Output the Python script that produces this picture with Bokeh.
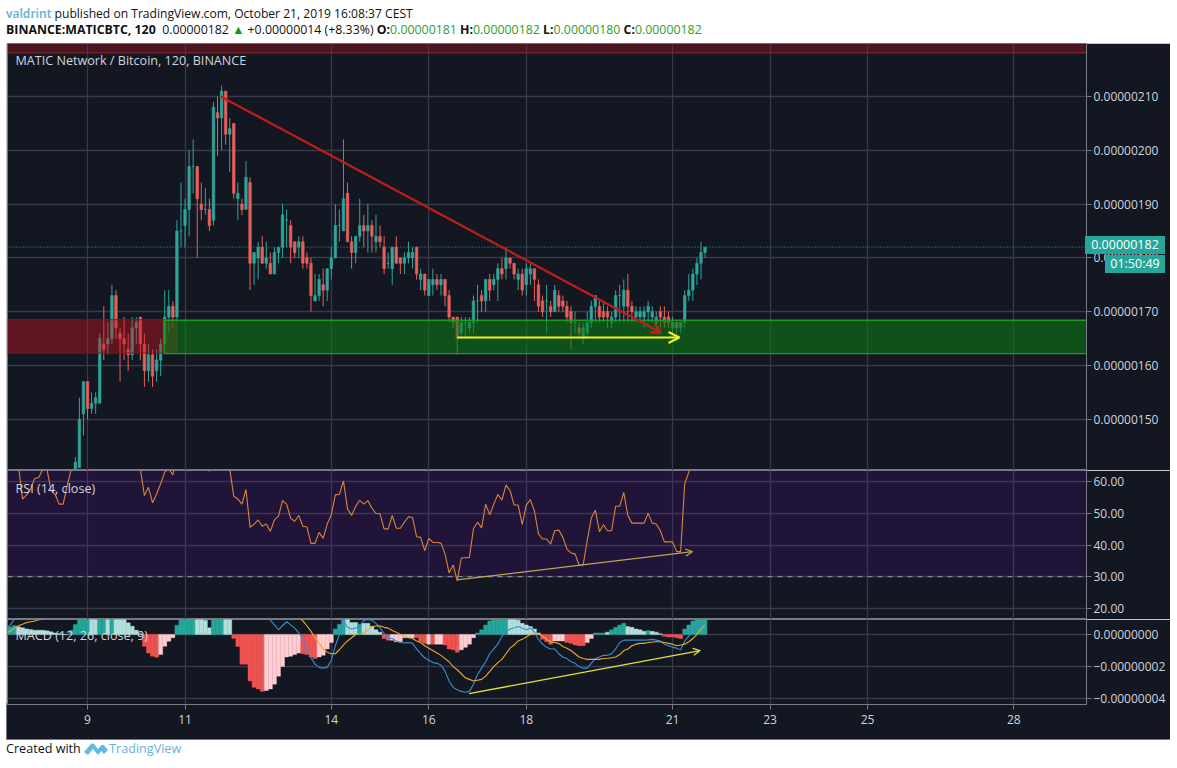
from bokeh.embed import file_html
from bokeh.resources import INLINE
from bokeh.plotting import figure
from bokeh.layouts import column
from bokeh.models import Div, Label, Range1d, FixedTicker, Arrow, OpenHead, Span
import numpy as np

# ---------- data (price values in satoshi, 1e-8 BTC; bars are 2h candles) ----------
FIRST_BAR = 0
OPEN = [138,141,151,157,152,153,153,164,164,165,173,166,165,163,162,167,169,164,159,162,159,161,164,169,171,
        169,185,186,189,197,197,190,189,189,187,207,206,211,203,205,191,190,189,194,179,180,182,179,179,177,
        181,182,187,186,183,182,183,180,179,172,173,175,174,178,180,186,185,192,183,181,184,186,185,186,183,
        184,182,179,178,182,180,179,180,180,182,176,177,173,175,176,175,176,173,169,169,166,168,167,168,172,
        173,172,176,175,176,178,178,180,179,176,177,175,177,178,175,172,172,171,170,173,172,171,170,168,167,
        165,166,168,171,171,170,170,168,169,173,171,174,171,169,169,169,170,169,168,170,169,169,167,168,167,
        168,173,174,177,179,181]
HIGH = [143,154,157,157,155,155,166,171,168,175,174,167,169,166,169,169,169,166,164,163,163,165,174,174,172,
        187,194,191,200,202,197,194,193,191,209,210,212,211,206,205,194,191,198,195,181,183,184,183,181,182,
        182,190,189,187,183,184,184,181,180,177,177,178,178,182,190,189,202,194,184,184,191,188,190,187,188,
        186,184,181,182,184,180,181,183,182,182,178,177,176,178,177,177,176,174,169,169,169,169,169,173,175,
        174,176,177,177,179,180,182,180,179,178,178,179,179,178,176,173,175,172,175,174,173,172,171,170,168,
        168,170,172,173,172,172,171,170,174,175,176,177,172,171,171,171,172,171,170,171,171,170,169,168,168,
        174,177,178,180,183,182]
LOW = [137,141,147,150,151,151,153,161,162,164,165,157,161,159,161,164,161,156,157,156,157,158,163,166,167,
       168,182,182,184,192,180,187,188,185,186,199,200,201,196,191,187,188,189,174,175,176,179,178,177,177,
       179,180,182,179,180,180,178,178,170,172,172,171,172,176,180,183,185,183,178,179,183,182,181,181,181,
       182,177,178,175,179,177,177,179,178,176,174,173,173,173,174,173,171,168,167,162,165,165,166,166,168,
       170,170,172,174,172,176,176,178,176,174,173,173,175,172,170,169,166,169,170,170,170,168,163,166,165,
       164,165,167,168,168,168,167,167,168,168,168,168,168,168,168,167,168,168,166,167,167,167,166,166,166,
       167,172,172,175,176,180]
CLOSE = [142,150,157,152,153,154,165,163,165,173,167,165,164,162,167,168,164,159,162,158,161,164,169,171,169,
         185,185,189,197,197,191,189,189,186,208,206,211,203,204,192,192,189,195,179,181,182,179,180,177,181,
         182,188,187,182,181,183,179,179,173,173,176,174,178,180,186,186,191,183,181,184,186,185,186,184,184,
         183,178,179,182,179,179,180,181,181,177,177,174,176,176,175,176,173,169,168,165,168,168,168,172,172,
         172,176,174,176,178,177,180,179,177,177,174,178,178,176,171,170,172,170,174,171,171,169,168,168,166,
         167,168,171,173,169,169,169,169,173,173,174,171,170,170,170,170,171,170,169,169,168,168,168,167,168,
         173,174,177,179,181,182]

ZONE_RED = dict(start=[-20], end=[25], low=[162.3], high=[168.5])
ZONE_GREEN = dict(start=[21.9], end=[255], low=[162.2], high=[168.4])
ZONE_TOP = dict(start=[-20], end=[255], low=[218.1], high=[230])
LAST_PRICE = 182

PRICE_TICKS = [150, 160, 170, 180, 190, 200, 210]
PRICE_TICK_LABELS = ["0.00000150", "0.00000160", "0.00000170", "0.00000180", "0.00000190", "0.00000200", "0.00000210"]
TIME_TICKS = [3, 27, 63, 87, 111, 147, 171, 195, 231]
TIME_TICK_LABELS = ["9", "11", "14", "16", "18", "21", "23", "25", "28"]

RED_ARROW_X = [35.8, 144.2]
RED_ARROW_Y = [210, 166.1]
YELLOW_ARROW_X = [94, 148.7]
YELLOW_ARROW_Y = [165.2, 165.2]

RSI_FIRST_BAR = -15
RSI = [68,65,54.5,55.8,57.7,61,61.3,64,64,57.2,56,52.9,52.9,58.7,64,
       70,75,82,78,76,75,80,76,77,82,78,74,72,76,72,70,
       64,55.6,58.2,53.3,56.1,59.3,63,64,62.1,68,74,78,82,80,76,78,74,63.2,72,80,78,72,64,
       55.4,54.5,52.9,57.5,45.6,46.6,47.9,45.9,46.6,44.3,47.9,49.1,54,52.9,48.4,47.5,49.3,45.9,45.7,40.5,40.5,
       44,42.1,46.6,49.5,55.8,56,60.2,51.4,49.3,52.2,54.1,
       52.9,54,51.6,50,49.8,45.1,45.1,49.3,45.3,45.3,47.2,48.9,48.7,42.6,42.4,38.2,42.1,40.8,40.8,40.6,37.2,31.2,
       33.7,28.7,35.9,36,36.1,45.1,47.2,45.4,52.9,49.5,52.9,55.9,54.2,58.9,57.2,52.6,52.6,46.4,52.6,54.3,50.8,
       43.5,41.9,41.9,40.3,44.5,44.7,42.4,38.7,37.5,37.2,33.7,33.7,41.4,48.5,51,44.2,46.4,44.5,44.5,52.2,52.2,
       56.6,49.3,46.9,46.9,46.9,46.9,50,46.9,46.6,44.5,41,41,41,37.9,37.9,59.3,63,67,70,72,74]
RSI_TICKS = [20, 30, 40, 50, 60]
RSI_TICK_LABELS = ["20.00", "30.00", "40.00", "50.00", "60.00"]
RSI_BAND = [30, 70]
RSI_TREND_X = [94, 151.9]
RSI_TREND_Y = [29, 37.9]

# MACD panel values in 1e-8
MACD_FIRST_BAR = -17
HIST = [.42,.48,.56,.48,.42,.35,.31,.27,.27,.27,.23,.17,.1,.06,.03,0,.27,.62,.94,1.2,1.3,1.2,1.1,1.2,1.4,1.3,1.4,1.35,1.2,1.0,.73,.52,.27,.05,
        -.73,-1.15,-1.35,-1.42,-1.25,-.73,-.42,-.2,.58,.94,1.2,1.2,1.3,1.3,1.1,.9,.42,1.1,1.2,1.1,1.1,1.0,
        -.25,-.75,-1.85,-1.85,-2.9,-3.3,-3.4,-3.55,-3.5,-3.4,-3.1,-2.6,-2.0,-1.4,-1.35,-1.25,-1.15,-1.2,-1.25,-1.4,-1.5,-1.4,-1.3,-.9,-.5,
        .35,.65,1.0,1.0,.75,.75,.65,.7,.7,.5,.3,.15,
        -.25,-.35,-.35,-.45,-.45,-.2,-.2,-.2,-.2,-.45,-.55,-.6,-.6,-.6,-.6,-.65,-.9,-.95,-1.1,-.95,-.8,-.6,-.2,
        .1,.3,.6,.85,1.0,1.05,1.1,1.1,1.1,1.1,.9,.7,.6,.5,.35,.1,
        -.3,-.45,-.6,-.4,-.4,-.4,-.5,-.55,-.65,-.7,-.7,-.5,-.25,
        .1,.1,.1,.15,.3,.45,.6,.7,.5,.45,.35,.3,.2,.25,.2,.15,.05,
        -.1,-.15,-.15,-.2,-.25,.35,.6,.85,.95,1.1,1.2]
HIST_KIND = ("TTT" "ttttttttttttt" "TTTTT" "tt" "TT" "t" "T" "ttttttt" "RRRR" "rrrr" "TTTTT" "tttt" "TTT" "tt"
             "RRRRRRRR" "rrrrrrrrr" "RRRR" "rrrr" "TTT" "ttt" "T" "ttttt" "RR" "rrrrrr" "RRR" "r" "R" "rr" "RRRR" "rrrr"
             "TTTTTTTT" "tttttttt" "RRR" "rrr" "RRRRR" "rr" "TTT" "t" "TTTT" "ttttt" "T" "ttt" "RRRRR" "TTTTTT")
MACD_LINE = [.4,.6,.95,1.2,1.4,1.6,1.8,2,2.2,2.4,2.6,2.7,2.8,2.9,3,3.1,3.2,3.5,3.9,4.3,4.7,5,5.2,5.4,5.6,5.8,6,6.1,6.2,6.2,6.1,6,5.8,5.6,5.4,5.1,4.8,4.5,
             4.2,4,3.8,3.7,3.6,3.6,3.5,3.5,3.4,3.4,3.3,3.2,3.1,3,2.9,2.8,2.6,2.3,1.9,1.6,1.3,1.3,1.25,1.2,1.3,1.3,1.3,
             .9,.6,.3,.55,.8,.6,.4,.1,-.3,-.95,-1.45,-1.85,-2.05,-2.1,-2.05,-1.6,-.7,0,.85,.45,.35,.4,.55,
             .88,.94,.9,.7,.42,.08,-.25,-.25,-.4,-.5,-.52,-.5,-.55,-.9,-1.2,-1.45,-1.6,-1.75,-1.8,-1.9,-2.3,-2.9,-3.3,-3.45,-3.55,-3.6,-3.55,-3.1,-2.5,-2.1,-1.7,-1.2,-.9,-.6,-.1,
             .15,.35,.42,.5,.4,.3,.4,.15,-.3,-.6,-.8,-.9,-.9,-1.2,-1.4,-1.5,-1.7,-1.8,-2,-2.1,-2.1,-1.8,-1.5,-1.4,-1.3,-1.3,-1.2,-.9,-.5,-.35,-.35,-.35,-.35,-.35,-.35,-.33,-.3,-.35,-.4,-.6,-.7,-.8,-.85,-.95,-.4,-.1,.3,.5,.6,.65]
SIGNAL_LINE = [.1,.2,.4,.55,.65,.75,.8,.85,.92,.98,1.1,1.2,1.3,1.4,1.5,1.6,1.7,1.8,1.9,2,2.2,2.4,2.6,2.8,3,3.2,3.4,3.5,3.6,3.7,3.8,3.85,3.9,3.95,4,4,4,4,
               3.9,3.8,3.8,3.7,3.6,3.5,3.4,3.4,3.3,3.2,3.1,3,2.9,2.8,2.7,2.6,2.6,2.5,2.4,2.3,2.2,2.1,2,1.9,1.8,1.7,
               1.65,1.6,1.55,1.5,1.5,1.45,1.4,1.4,1.1,.85,.55,.2,-.2,-.55,-.9,-1.1,-1.2,-1.2,-.95,-.65,-.4,-.2,0,.05,
               .1,.3,.5,.53,.54,.45,.4,.25,.15,0,-.1,-.2,-.25,-.4,-.5,-.7,-.85,-1,-1.15,-1.3,-1.5,-1.7,-2,-2.2,-2.45,-2.7,-2.8,-2.9,-2.85,-2.8,-2.6,-2.3,-2,-1.75,-1.55,
               -1.2,-.85,-.65,-.4,-.3,-.15,0,.05,.05,-.1,-.3,-.45,-.5,-.55,-.75,-.85,-1,-1.2,-1.4,-1.5,-1.55,-1.55,-1.55,-1.55,-1.5,-1.48,-1.45,-1.4,-1.25,-1,-.9,-.7,-.6,-.55,-.55,-.5,-.47,-.45,-.45,-.5,-.55,-.6,-.7,-.65,-.6,-.45,-.25,0,.35,.6]
MACD_TICKS = [-4, -2, 0]
MACD_TICK_LABELS = ["\u22120.00000004", "\u22120.00000002", "0.00000000"]
MACD_TREND_X = [96.9, 153.8]
MACD_TREND_Y = [-3.69, -1]

# ---------- styles ----------
BG = "#131722"; GRID = "#363a49"; FRAME = "#787b86"; TXT = "#d1d4dc"
UP = "#2fa69a"; DOWN = "#e8605c"
FONT = "Open Sans"
xr = Range1d(-16.7, 248.9)
HIST_COL = {"T": "#26a69a", "t": "#b2dfdb", "R": "#ef5350", "r": "#ffcdd2"}

def make(h, y0, y1, ticks, labels, bottom=0):
    p = figure(width=1164, height=h, x_range=xr, y_range=Range1d(y0, y1), y_axis_location="right",
               output_backend="svg", toolbar_location=None, background_fill_color=BG, border_fill_color=BG,
               min_border_left=1, min_border_right=84, min_border_top=0, min_border_bottom=bottom,
               outline_line_color=FRAME, margin=(0, 0, 0, 6))
    p.yaxis.ticker = FixedTicker(ticks=ticks)
    p.yaxis.major_label_overrides = dict(zip(ticks, labels))
    p.xaxis.ticker = FixedTicker(ticks=TIME_TICKS)
    p.xaxis.major_label_overrides = dict(zip(TIME_TICKS, TIME_TICK_LABELS))
    for ax in (p.xaxis, p.yaxis):
        ax.axis_line_color = FRAME
        ax.major_tick_line_color = FRAME
        ax.major_tick_out = 5
        ax.major_tick_in = 0
        ax.minor_tick_line_color = None
        ax.major_label_text_color = TXT
        ax.major_label_text_font = FONT
        ax.major_label_text_font_size = "12px"
        ax.major_label_standoff = 2
    p.xaxis.major_label_standoff = 5
    p.xgrid.ticker = FixedTicker(ticks=TIME_TICKS)
    p.ygrid.ticker = FixedTicker(ticks=ticks)
    p.grid.grid_line_color = GRID
    p.grid.grid_line_width = 1.3
    p.xaxis.visible = bottom > 0
    return p

def caption(p, text, y):
    p.add_layout(Label(x=8, y=y, x_units="screen", y_units="screen", text=text, text_color=TXT,
                       text_font=FONT, text_font_size="12.6px", text_baseline="middle"))

# ---------- price pane ----------
main = make(427, 140.48, 219.85, PRICE_TICKS, PRICE_TICK_LABELS)
bars = FIRST_BAR + np.arange(len(OPEN))
o, h, l, c = map(np.array, (OPEN, HIGH, LOW, CLOSE))
up = c >= o
for mask, col in ((up, UP), (~up, DOWN)):
    main.segment(bars[mask], h[mask], bars[mask], l[mask], line_color=col, line_width=1)
    main.vbar(bars[mask], 0.62, o[mask], c[mask], fill_color=col, line_color=col, line_width=0.6)
main.quad(left=ZONE_TOP["start"], right=ZONE_TOP["end"], bottom=ZONE_TOP["low"], top=ZONE_TOP["high"],
          fill_color="#b0141c", fill_alpha=0.36, line_color="#8a2a30", line_width=1)
main.quad(left=ZONE_RED["start"], right=ZONE_RED["end"], bottom=ZONE_RED["low"], top=ZONE_RED["high"],
          fill_color="#c8141e", fill_alpha=0.42, line_color="#7a1a22", line_width=1)
main.quad(left=ZONE_GREEN["start"], right=ZONE_GREEN["end"], bottom=ZONE_GREEN["low"], top=ZONE_GREEN["high"],
          fill_color="#0b7c16", fill_alpha=0.58, line_color="#1f9a24", line_width=1.4)
main.add_layout(Span(location=LAST_PRICE, dimension="width", line_color="#26a69a", line_dash=[1, 2], line_width=1))
main.add_layout(Arrow(end=OpenHead(size=10, line_color="#d41e1e", line_width=2),
                      x_start=RED_ARROW_X[0], y_start=RED_ARROW_Y[0], x_end=RED_ARROW_X[1], y_end=RED_ARROW_Y[1],
                      line_color="#c21c1c", line_width=2.2))
main.add_layout(Arrow(end=OpenHead(size=11, line_color="#f4f020", line_width=2),
                      x_start=YELLOW_ARROW_X[0], y_start=YELLOW_ARROW_Y[0], x_end=YELLOW_ARROW_X[1], y_end=YELLOW_ARROW_Y[1],
                      line_color="#f4f020", line_width=2))
caption(main, "MATIC Network / Bitcoin, 120, BINANCE", 410)

# ---------- RSI pane ----------
rsi = make(149, 16.5, 63.5, RSI_TICKS, RSI_TICK_LABELS)
rsi.quad(left=[-20], right=[255], bottom=[RSI_BAND[0]], top=[RSI_BAND[1]], fill_color="#9800ff", fill_alpha=0.1, line_alpha=0)
rsi.add_layout(Span(location=RSI_BAND[0], dimension="width", line_color="#9a9aa8", line_dash=[5, 5], line_width=1))
rsi.line(RSI_FIRST_BAR + np.arange(len(RSI)), RSI, line_color="#d9853b", line_width=1.1)
rsi.add_layout(Arrow(end=OpenHead(size=7, line_color="#c0a94a", line_width=1.2),
                     x_start=RSI_TREND_X[0], y_start=RSI_TREND_Y[0], x_end=RSI_TREND_X[1], y_end=RSI_TREND_Y[1],
                     line_color="#b9a552", line_width=1.2))
caption(rsi, "RSI (14, close)", 131)

# ---------- MACD pane ----------
macd = make(121, -4.37, 0.94, MACD_TICKS, MACD_TICK_LABELS, bottom=36)
hx = MACD_FIRST_BAR + np.arange(len(HIST))
hist_colors = [HIST_COL[k] for k in HIST_KIND]
macd.vbar(hx, 1.0, 0, HIST, fill_color=hist_colors, line_color=hist_colors, line_width=0.4)
macd.line(hx, MACD_LINE, line_color="#3a8fd0", line_width=1.1)
macd.line(hx, SIGNAL_LINE, line_color="#f0a92a", line_width=1.1)
macd.add_layout(Arrow(end=OpenHead(size=7, line_color="#e8e040", line_width=1.2),
                      x_start=MACD_TREND_X[0], y_start=MACD_TREND_Y[0], x_end=MACD_TREND_X[1], y_end=MACD_TREND_Y[1],
                      line_color="#e8e040", line_width=1.3))
caption(macd, "MACD (12, 26, close, 9)", 69)

# ---------- header and footer ----------
G = "color:#2ca02c"
header = Div(width=1164, height=43, margin=(0, 0, 0, 6), text=(
    f"<div style='font-family:\"Open Sans\";color:#111;white-space:nowrap;padding-top:6px'>"
    f"<div style='font-size:12.1px;line-height:16px'><span style='color:#58b4d6;font-weight:600'>valdrint</span> published on TradingView.com, October 21, 2019 16:08:37 CEST</div>"
    f"<div style='font-size:12.35px;line-height:16px'><b>BINANCE:MATICBTC, 120</b>&nbsp; 0.00000182 <span style='color:#0a9a1c'>\u25b2</span> +0.00000014 (+8.33%) "
    f"<b>O:</b><span style='{G}'>0.00000181</span> <b>H:</b><span style='{G}'>0.00000182</span> "
    f"<b>L:</b><span style='{G}'>0.00000180</span> <b>C:</b><span style='{G}'>0.00000182</span></div></div>"))
logo = ("<svg width='24' height='14' viewBox='0 0 24 14' style='vertical-align:-2px'>"
        "<path d='M0 11 L7 3 Q8.5 1.5 10 3 L14 8 L17 4.5 Q18.5 3 20 4.5 L24 9 L20 13 L17.5 10 L14 14 L9 8 L4 14 Z' fill='#5fbcdc'/></svg>")
BOX = ("position:absolute;background:#26a69a;color:#fff;font-size:12.5px;line-height:18px;height:18px;"
       "text-align:center;font-family:'Open Sans'")
EDGE = "position:absolute;background:#787b86"
footer = Div(width=1164, height=20, margin=(0, 0, 0, 6), text=(
    f"<div style='position:relative;font-family:\"Open Sans\";font-size:12.6px;line-height:18px;color:#111;white-space:nowrap'>"
    f"Created with {logo}<span style='color:#5fb4d6;margin-left:1px'>TradingView</span>"
    f"<div style=\"{BOX};left:1079px;top:-504px;width:80px\">0.00000182</div>"
    f"<div style=\"{BOX};left:1099px;top:-485px;width:60px\">01:50:49</div>"
    f"<div style=\"{EDGE};left:0;top:-1px;width:1164px;height:1px\"></div>"
    f"<div style=\"{EDGE};left:0;top:-37px;width:1px;height:37px\"></div>"
    f"</div>"))

root = column(header, main, rsi, macd, footer, spacing=0, margin=(0, 0, 0, 0), width=1170)
open("out.html", "w").write(file_html(root, INLINE))
